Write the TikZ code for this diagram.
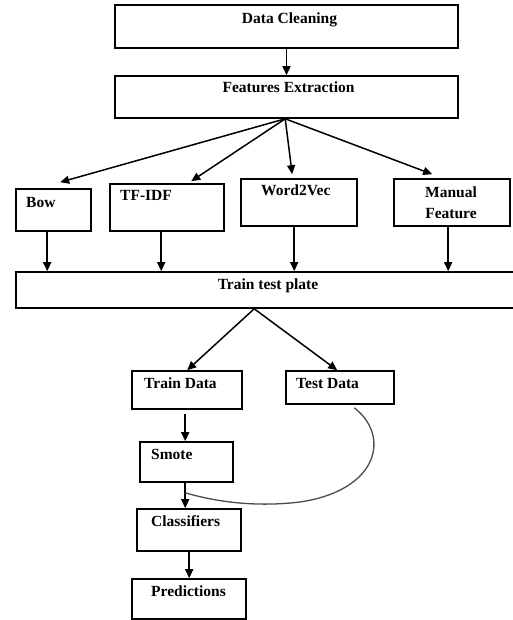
\documentclass[tikz,border=0pt]{standalone}
\usepackage{fontspec}
\setmainfont{Liberation Serif}
\usetikzlibrary{arrows.meta,fit,calc}
\tikzset{
  box/.style={draw=black, line width=1.6pt, inner sep=0pt, rectangle},
  lbl/.style={font=\bfseries\fontsize{15.5}{21}\selectfont, inner sep=0pt, text height=10.5pt, text depth=3.5pt},
  arr/.style={draw=black, line width=1.5pt, -{Triangle[length=9pt,width=8pt]}},
  curveline/.style={draw=black!70, line width=1.3pt}
}
\begin{document}
\begin{tikzpicture}[x=1pt,y=-1pt]
\useasboundingbox (0,0) rectangle (513,620);
% boxes
\node[box, fit={(115,5)(458,48)}] (dc) {};
\node[box, fit={(115,76)(458,118)}] (fe) {};
\node[box, fit={(16,189)(91,231)}] (bow) {};
\node[box, fit={(110,184)(224,231)}] (tfidf) {};
\node[box, fit={(241,179)(357,226)}] (w2v) {};
\node[box, fit={(394,179)(510,226)}] (man) {};
\node[box, fit={(16,272)(518,308)}] (tts) {};
\node[box, fit={(132,371)(242,409)}] (trd) {};
\node[box, fit={(286,371)(394,404)}] (ted) {};
\node[box, fit={(140,442)(233,482)}] (sm) {};
\node[box, fit={(137,509)(241,551)}] (cl) {};
\node[box, fit={(132,579)(246,619)}] (pr) {};
% labels
\node[lbl] (tdc) at (289.5,20) {Data Cleaning};
\node[lbl] (tfe) at (288.5,89) {Features Extraction};
\node[lbl, anchor=west] (tbow) at (26,204) {Bow};
\node[lbl, anchor=west] (ttf) at (120,197) {TF-IDF};
\node[lbl, anchor=west] (tw2v) at (261,192) {Word2Vec};
\node[lbl, align=center, text height=, text depth=] (tman) at (451,202.5) {Manual\\Feature};
\node[lbl] (ttts) at (268,286) {Train test plate};
\node[lbl, anchor=west] (ttrd) at (144,385) {Train Data};
\node[lbl, anchor=west] (tted) at (296,385) {Test Data};
\node[lbl, anchor=west] (tsm) at (151,456) {Smote};
\node[lbl, anchor=west] (tcl) at (151,523) {Classifiers};
\node[lbl, anchor=west] (tpr) at (151,593) {Predictions};
% connectors
\draw[arr] (dc.south) -- (fe.north);
\coordinate (fes) at ($(fe.south west)+(171,0)$);
\draw[arr] (fes) -- ($(bow.north west)+(45,-6)$);
\draw[arr] (fes) -- ($(tfidf.north west)+(82,-2)$);
\draw[arr] (fes) -- ($(w2v.north west)+(52,-4)$);
\draw[arr] (fes) -- ($(man.north west)+(39,-4)$);
\coordinate (bowd) at ($(bow.south west)+(32,0)$);
\draw[arr] (bowd) -- (bowd |- tts.north);
\coordinate (tfd) at ($(tfidf.south west)+(52,0)$);
\draw[arr] (tfd) -- (tfd |- tts.north);
\coordinate (w2d) at ($(w2v.south west)+(54,0)$);
\draw[arr] (w2d) -- (w2d |- tts.north);
\coordinate (mad) at ($(man.south west)+(55,0)$);
\draw[arr] (mad) -- (mad |- tts.north);
\coordinate (tts s) at ($(tts.south west)+(239,0)$);
\draw[arr] (tts s) -- ($(trd.north west)+(56,0)$);
\draw[arr] (tts s) -- ($(ted.north west)+(52,0)$);
\coordinate (trds) at ($(trd.south west)+(54,4)$);
\draw[arr] (trds) -- (trds |- sm.north);
\coordinate (sms) at ($(sm.south west)+(46,0)$);
\draw[arr] (sms) -- (sms |- cl.north);
\coordinate (cls) at ($(cl.south west)+(53,0)$);
\draw[arr] (cls) -- (cls |- pr.north);
\draw[curveline] ($(ted.south west)+(69,3)$) .. controls (390,435) and (380,490) .. (300,502) .. controls (250,508) and (210,500) .. ($(sms)+(0,10)$);
\end{tikzpicture}
\end{document}
